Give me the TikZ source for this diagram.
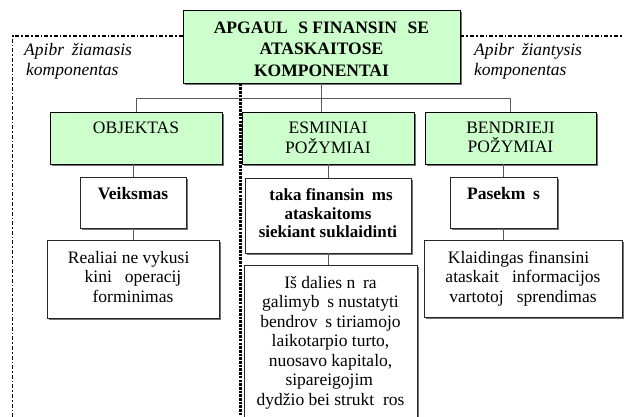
\documentclass[tikz,border=0pt]{standalone}
\usepackage{fontspec}
\setmainfont{Liberation Serif}
\usetikzlibrary{shadows}
\definecolor{boxgreen}{HTML}{CCFFCC}
\definecolor{linkgray}{HTML}{5A5A5A}
\newcommand\mybx[4]{\parbox[c][#2][t]{#1}{\centering\vspace*{#3}#4\par}}
\newcommand\gpE{\leavevmode\kern0.61em\relax}
\newcommand\gpe{\leavevmode\kern0.44em\relax}
\newcommand\gpu{\leavevmode\kern0.5em\relax}
\newcommand\gpI{\leavevmode\kern0.36em\relax}
\begin{document}
\begin{tikzpicture}[x=1pt,y=-1pt,
  font=\fontsize{17.5}{19.5}\selectfont,
  shadowed/.style={drop shadow={shadow xshift=1.6pt,shadow yshift=-1.6pt,fill=black!55,opacity=1}},
  gbox/.style={draw=black,fill=boxgreen,line width=0.8pt,inner sep=0pt,shadowed},
  wbox/.style={draw=black!85,fill=white,line width=0.8pt,inner sep=0pt,shadowed},
  link/.style={draw=linkgray,line width=0.9pt},
  dashdotline/.style={line width=1.8pt,dash pattern=on 4pt off 2pt on 1.6pt off 2pt},
  thickdots/.style={line width=3pt,dash pattern=on 2.6pt off 1.1pt},
  sidelabel/.style={inner sep=0pt,align=left,anchor=north west,font=\fontsize{17.5}{20}\selectfont\itshape}
]
\useasboundingbox (0,0) rectangle (624,416);
\fill[white] (0,0) rectangle (624,416);

% top box
\node[gbox] (top) at (321.5,46.5) {\mybx{277pt}{73pt}{11.5pt}{\fontsize{17.5}{21.5}\selectfont\bfseries APGAUL\gpE S FINANSIN\gpE SE\\ATASKAITOSE\\KOMPONENTAI}};

% side boundaries
\coordinate (lcorner) at (12.5,36);
\coordinate (lbottom) at (12.5,420);
\coordinate (rend) at (626,36);
\coordinate (mtop) at (240,83.5);
\coordinate (mbot) at (240,420);
\draw[dashdotline] (top.west |- lcorner) -- (lcorner) -- (lbottom);
\draw[dashdotline] (top.east |- rend) -- (rend);
\draw[thickdots] (mtop) -- (mbot);

\node[sidelabel] (llab) at (24,43) {Apibr\gpe žiamasis\\\kern2pt komponentas};
\node[sidelabel] (rlab) at (474,43) {Apibr\gpe žiantysis\\komponentas};

% level 2
\node[gbox] (obj) at (136,138) {\mybx{172pt}{52pt}{10pt}{OBJEKTAS}};
\node[gbox] (esm) at (328,138) {\mybx{172pt}{52pt}{10pt}{ESMINIAI\\POŽYMIAI}};
\node[gbox] (ben) at (510.5,138) {\mybx{171pt}{52pt}{10pt}{BENDRIEJI\\POŽYMIAI}};

% level 3
\node[wbox] (veiks) at (133,202.5) {\mybx{106pt}{51pt}{10pt}{\bfseries Veiksmas}};
\node[wbox] (taka) at (328,215.5) {\mybx{166pt}{75pt}{11pt}{\fontsize{17}{18.5}\selectfont\bfseries \gpI taka finansin\gpe ms\\ataskaitoms\\siekiant suklaidinti}};
\node[wbox] (pas) at (503.5,202.5) {\mybx{107pt}{51pt}{10pt}{\bfseries Pasekm\gpe s}};

% level 4
\node[wbox] (real) at (133,279) {\mybx{172pt}{78pt}{11pt}{Realiai ne vykusi\gpu\\\gpu kini\gpu\ operacij\gpu\\forminimas}};
\node[wbox] (isd) at (330.5,342.5) {\mybx{173pt}{155pt}{11pt}{Iš dalies n\gpe ra\\galimyb\gpe s nustatyti\\bendrov\gpe s tiriamojo\\laikotarpio turto,\\nuosavo kapitalo,\\\gpI sipareigojim\gpu\\dydžio bei strukt\gpu ros}};
\node[wbox] (kla) at (523,278.5) {\mybx{198pt}{77pt}{11pt}{Klaidingas finansini\gpu\\ataskait\gpu\ informacijos\\vartotoj\gpu\ sprendimas}};

% connectors
\draw[link] (top.south) -- (top.south |- esm.north);
\draw[link] (obj.north) -- ++(0,-13) -| (ben.north);
\draw[link] (veiks.north |- obj.south) -- (veiks.north);
\draw[link] (pas.north |- ben.south) -- (pas.north);
\draw[link] (taka.north |- esm.south) -- (taka.north);
\draw[link] (veiks.south) -- (veiks.south |- real.north);
\draw[link] (pas.south) -- (pas.south |- kla.north);
\draw[link] (taka.south) -- (taka.south |- isd.north);
\end{tikzpicture}
\end{document}
